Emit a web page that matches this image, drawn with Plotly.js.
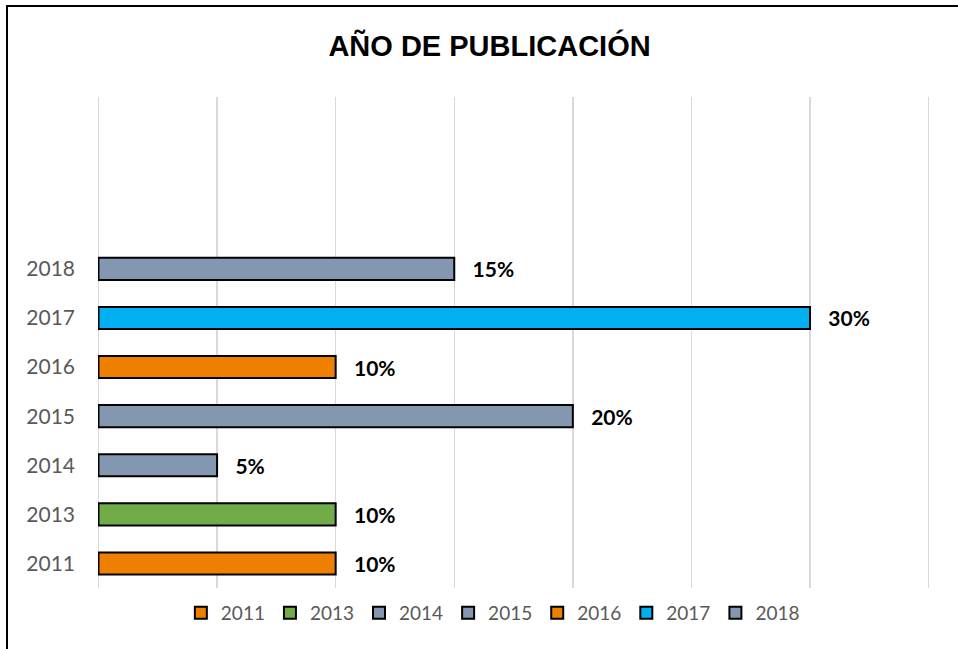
<!DOCTYPE html>
<html>
<head>
<meta charset="utf-8">
<script src="https://cdn.plot.ly/plotly-3.0.1.min.js"></script>
<style>
  html, body { margin: 0; padding: 0; background: #fff; }
  #wrap { position: relative; width: 958px; height: 649px; overflow: hidden; }
  #chart { width: 958px; height: 649px; }
  #frame { position: absolute; left: 6px; top: 5px; width: 1000px; height: 700px;
           border-left: 2px solid #000; border-top: 2px solid #000; pointer-events: none; }
</style>
</head>
<body>
<div id="wrap">
  <div id="chart"></div>
  <div id="frame"></div>
</div>
<script>
const years = ['2011', '2013', '2014', '2015', '2016', '2017', '2018'];
const values = [10, 10, 5, 20, 10, 30, 15];
const labels = ['10%', '10%', '5%', '20%', '10%', '30%', '15%'];
const colors = ['#EE7F00', '#70AD47', '#8497B0', '#8497B0', '#EE7F00', '#00B0F0', '#8497B0'];
const extraSlots = ['', ' ', '  '];

const traces = years.map((yr, i) => ({
  type: 'bar',
  orientation: 'h',
  name: yr,
  y: [yr],
  x: [values[i]],
  text: [labels[i]],
  texttemplate: '   %{text}',
  textposition: 'outside',
  constraintext: 'none',
  cliponaxis: false,
  textfont: { family: 'Lato, "Open Sans", sans-serif', size: 21, color: '#000', weight: 'bold' },
  width: 0.45,
  marker: { color: colors[i], line: { color: '#000', width: 2 } },
  hoverinfo: 'none'
}));

const layout = {
  width: 958, height: 649,
  paper_bgcolor: '#fff', plot_bgcolor: '#fff',
  margin: { l: 98, r: 27, t: 97, b: 61 },
  title: {
    text: '<b>AÑO DE PUBLICACIÓN</b>',
    font: { family: '"Liberation Sans", Arial, sans-serif', size: 29, color: '#000' },
    x: 0.511, xanchor: 'center', y: 0.93, yanchor: 'middle'
  },
  barmode: 'overlay',
  showlegend: true,
  legend: {
    orientation: 'h', x: 0.474, xanchor: 'center', y: -0.012, yanchor: 'top',
    traceorder: 'normal',
    font: { family: 'Lato, "Open Sans", sans-serif', size: 19, color: '#595959' },
    itemwidth: 30
  },
  xaxis: {
    range: [-0.02, 35.1], dtick: 5, tick0: 0,
    showgrid: true, gridcolor: '#d9d9d9', gridwidth: 1.5,
    showticklabels: false, zeroline: true, zerolinecolor: '#d9d9d9', zerolinewidth: 1.5,
    showline: false, ticks: ''
  },
  yaxis: {
    type: 'category',
    categoryorder: 'array',
    categoryarray: years.concat(extraSlots),
    range: [-0.5, 9.5],
    showgrid: false, zeroline: false, showline: false, ticks: '',
    ticklabelstandoff: 22,
    tickfont: { family: 'Lato, "Open Sans", sans-serif', size: 21, color: '#595959' }
  }
};

Plotly.newPlot('chart', traces, layout, { staticPlot: true, displayModeBar: false });
</script>
</body>
</html>
